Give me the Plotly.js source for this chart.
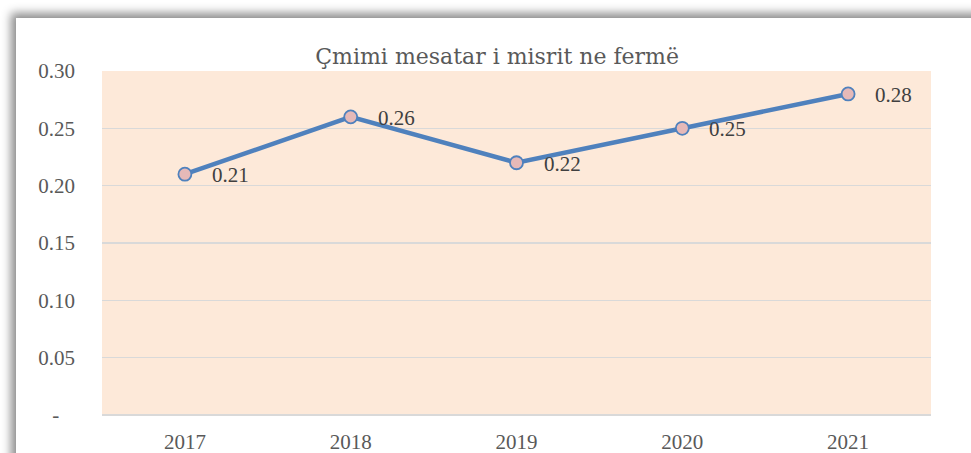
<!DOCTYPE html>
<html>
<head>
<meta charset="utf-8">
<script src="https://cdn.plot.ly/plotly-3.0.1.min.js"></script>
<style>
html,body{margin:0;padding:0;background:#fff;overflow:hidden;}
#frame{position:absolute;left:16px;top:18px;width:1000px;height:500px;background:#fff;box-shadow:-3px -3px 9px 2px rgba(0,0,0,0.45);}
#chart{position:absolute;left:0;top:0;width:971px;height:453px;}
</style>
</head>
<body>
<div id="frame"></div>
<div id="chart"></div>
<script>
const years = ['2017','2018','2019','2020','2021'];
const prices = [0.21, 0.26, 0.22, 0.25, 0.28];
const yTickVals = [0, 0.05, 0.10, 0.15, 0.20, 0.25, 0.30];
const yTickText = ['-\u00a0\u00a0\u00a0', '0.05', '0.10', '0.15', '0.20', '0.25', '0.30'];
const chartTitle = 'Çmimi mesatar i misrit ne fermë';

const font = 'Liberation Serif, serif';
const titleFont = 'DejaVu Serif, serif';
const idx = years.map((_, i) => i);

const trace = {
  x: idx, y: prices, type: 'scatter', mode: 'lines+markers',
  line: {color: '#4F81BD', width: 4.5},
  marker: {size: 13, color: '#E6B9B8', line: {color: '#4F81BD', width: 1.8}},
  hoverinfo: 'skip'
};

const annotations = idx.map(i => ({
  x: i, y: prices[i], xref: 'x', yref: 'y',
  text: prices[i].toFixed(2), showarrow: false,
  xanchor: 'left', yanchor: 'middle', xshift: 25, yshift: -1,
  font: {family: font, size: 21, color: '#404040'}
}));

const layout = {
  width: 971, height: 453,
  margin: {l: 102, r: 40, t: 71, b: 38},
  paper_bgcolor: 'rgba(0,0,0,0)',
  plot_bgcolor: '#FDE9D9',
  showlegend: false,
  title: {text: chartTitle, xref: 'container', x: 0.512, xanchor: 'center', y: 0.875, yanchor: 'middle',
          font: {family: titleFont, size: 22, color: '#595959'}},
  xaxis: {range: [-0.5, 4.5], tickvals: idx, ticktext: years,
          showgrid: false, zeroline: false, showline: false,
          ticks: '', ticklabelstandoff: 12,
          tickfont: {family: font, size: 21, color: '#595959'}, fixedrange: true},
  yaxis: {range: [0, 0.30], tickvals: yTickVals, ticktext: yTickText,
          showgrid: true, gridcolor: '#D9D9D9', gridwidth: 1.5, zeroline: true,
          zerolinecolor: '#D9D9D9', zerolinewidth: 1.5, showline: false, ticks: '',
          ticklabelstandoff: 26,
          tickfont: {family: font, size: 21, color: '#595959'}, fixedrange: true},
  annotations: annotations
};

Plotly.newPlot('chart', [trace], layout, {staticPlot: true, displayModeBar: false});
</script>
</body>
</html>
